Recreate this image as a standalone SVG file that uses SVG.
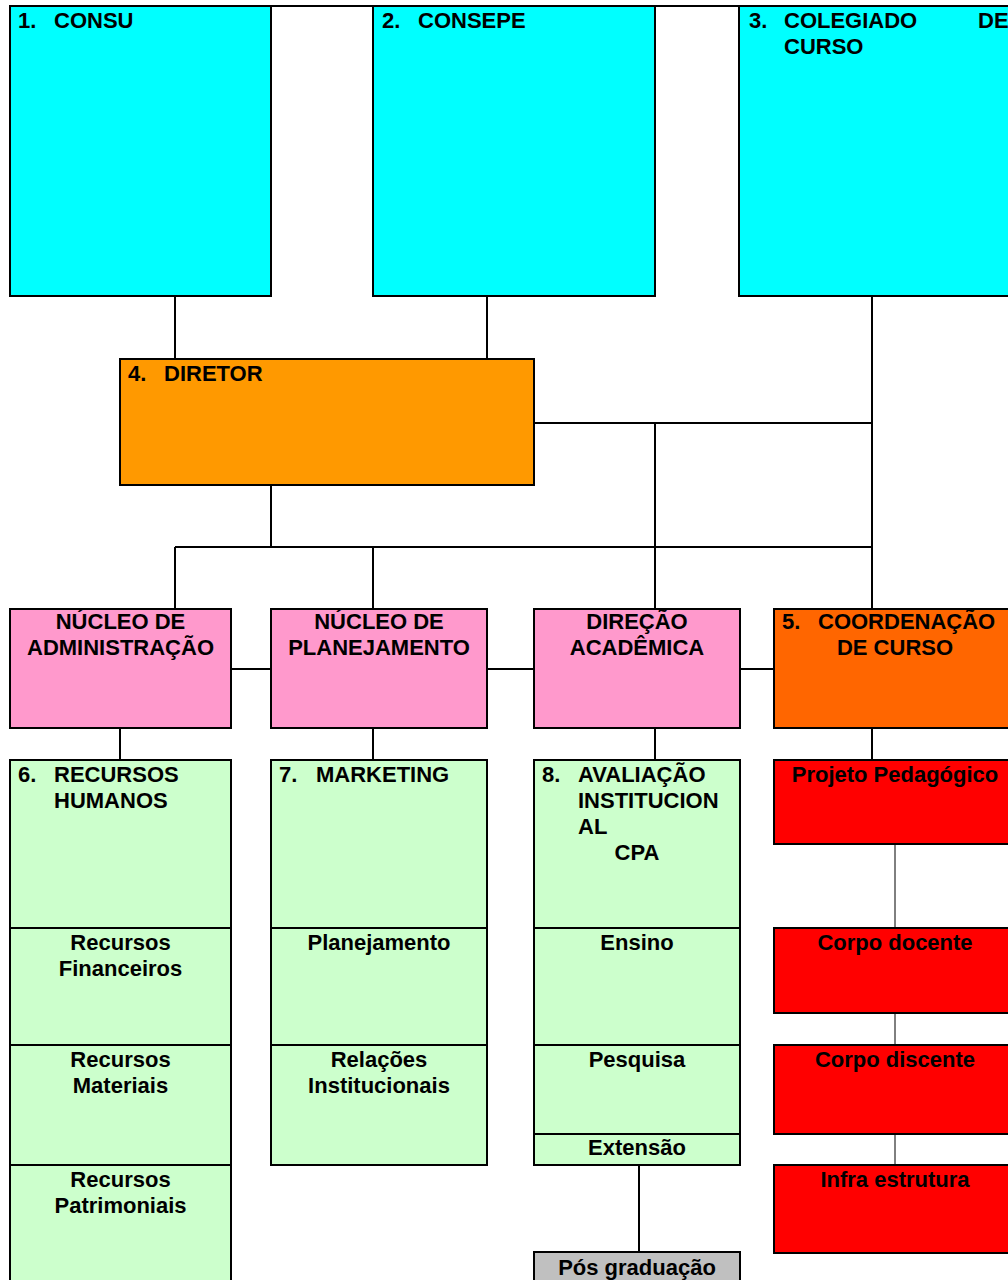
<svg xmlns="http://www.w3.org/2000/svg" width="1008" height="1280" viewBox="0 0 1008 1280">
<style>
rect{stroke:#000;stroke-width:2}
rect.bg{stroke:none;fill:#fff}
.cy{fill:#00FFFF}.or{fill:#FF9900}.pk{fill:#FF99CC}.do{fill:#FF6600}.gr{fill:#CCFFCC}.rd{fill:#FF0000}.gy{fill:#C0C0C0}
text{font-family:"Liberation Sans",Arial,sans-serif;font-weight:bold;font-size:22px;fill:#000}
.c{text-anchor:middle}
.ln line{stroke:#000;stroke-width:2}
.ln line.t{stroke-width:1}
</style>
<rect class="bg" width="1008" height="1280"/>
<g class="ln" id="connectors">
<line x1="10" y1="6" x2="1008" y2="6"/>
<line x1="175" y1="296" x2="175" y2="359"/>
<line x1="487" y1="296" x2="487" y2="359"/>
<line x1="872" y1="296" x2="872" y2="609"/>
<line x1="534" y1="423" x2="872" y2="423"/>
<line x1="655" y1="423" x2="655" y2="609"/>
<line x1="271" y1="485" x2="271" y2="547"/>
<line x1="175" y1="547" x2="872" y2="547"/>
<line x1="175" y1="547" x2="175" y2="609"/>
<line x1="373" y1="547" x2="373" y2="609"/>
<line x1="231" y1="669" x2="271" y2="669"/>
<line x1="487" y1="669" x2="534" y2="669"/>
<line x1="740" y1="669" x2="774" y2="669"/>
<line x1="120" y1="728" x2="120" y2="760"/>
<line x1="373" y1="728" x2="373" y2="760"/>
<line x1="655" y1="728" x2="655" y2="760"/>
<line x1="872" y1="728" x2="872" y2="760"/>
<line x1="639" y1="1165" x2="639" y2="1252"/>
<line class="t" x1="895" y1="844" x2="895" y2="928"/>
<line class="t" x1="895" y1="1013" x2="895" y2="1045"/>
<line class="t" x1="895" y1="1134" x2="895" y2="1165"/>
</g>
<g id="consu"><rect class="cy" x="10" y="6" width="261" height="290"/><text x="18" y="28">1.</text><text x="54" y="28">CONSU</text></g>
<g id="consepe"><rect class="cy" x="373" y="6" width="282" height="290"/><text x="382" y="28">2.</text><text x="418" y="28">CONSEPE</text></g>
<g id="colegiado"><rect class="cy" x="739" y="6" width="290" height="290"/><text x="749" y="28">3.</text><text x="784" y="28">COLEGIADO</text><text x="978" y="28">DE</text><text x="784" y="54">CURSO</text></g>
<g id="diretor"><rect class="or" x="120" y="359" width="414" height="126"/><text x="128" y="381">4.</text><text x="164" y="381">DIRETOR</text></g>
<g id="nucleo-adm"><rect class="pk" x="10" y="609" width="221" height="119"/><text class="c" x="120.5" y="629">NÚCLEO DE</text><text class="c" x="120.5" y="655">ADMINISTRAÇÃO</text></g>
<g id="nucleo-plan"><rect class="pk" x="271" y="609" width="216" height="119"/><text class="c" x="379" y="629">NÚCLEO DE</text><text class="c" x="379" y="655">PLANEJAMENTO</text></g>
<g id="direcao"><rect class="pk" x="534" y="609" width="206" height="119"/><text class="c" x="637" y="629">DIREÇÃO</text><text class="c" x="637" y="655">ACADÊMICA</text></g>
<g id="coordenacao"><rect class="do" x="774" y="609" width="242" height="119"/><text x="782" y="629">5.</text><text x="818" y="629">COORDENAÇÃO</text><text class="c" x="895" y="655">DE CURSO</text></g>
<g id="rh"><rect class="gr" x="10" y="760" width="221" height="168"/><text x="18" y="782">6.</text><text x="54" y="782">RECURSOS</text><text x="54" y="808">HUMANOS</text></g>
<g id="rf"><rect class="gr" x="10" y="928" width="221" height="117"/><text class="c" x="120.5" y="950">Recursos</text><text class="c" x="120.5" y="976">Financeiros</text></g>
<g id="rm"><rect class="gr" x="10" y="1045" width="221" height="120"/><text class="c" x="120.5" y="1067">Recursos</text><text class="c" x="120.5" y="1093">Materiais</text></g>
<g id="rp"><rect class="gr" x="10" y="1165" width="221" height="130"/><text class="c" x="120.5" y="1187">Recursos</text><text class="c" x="120.5" y="1213">Patrimoniais</text></g>
<g id="marketing"><rect class="gr" x="271" y="760" width="216" height="168"/><text x="279" y="782">7.</text><text x="316" y="782">MARKETING</text></g>
<g id="planejamento"><rect class="gr" x="271" y="928" width="216" height="117"/><text class="c" x="379" y="950">Planejamento</text></g>
<g id="relacoes"><rect class="gr" x="271" y="1045" width="216" height="120"/><text class="c" x="379" y="1067">Relações</text><text class="c" x="379" y="1093">Institucionais</text></g>
<g id="avaliacao"><rect class="gr" x="534" y="760" width="206" height="168"/><text x="542" y="782">8.</text><text x="578" y="782">AVALIAÇÃO</text><text x="578" y="808">INSTITUCION</text><text x="578" y="834">AL</text><text class="c" x="637" y="860">CPA</text></g>
<g id="ensino"><rect class="gr" x="534" y="928" width="206" height="117"/><text class="c" x="637" y="950">Ensino</text></g>
<g id="pesquisa"><rect class="gr" x="534" y="1045" width="206" height="89"/><text class="c" x="637" y="1067">Pesquisa</text></g>
<g id="extensao"><rect class="gr" x="534" y="1134" width="206" height="31"/><text class="c" x="637" y="1155">Extensão</text></g>
<g id="posgraduacao"><rect class="gy" x="534" y="1252" width="206" height="40"/><text class="c" x="637" y="1275">Pós graduação</text></g>
<g id="projeto"><rect class="rd" x="774" y="760" width="242" height="84"/><text class="c" x="895" y="782">Projeto Pedagógico</text></g>
<g id="docente"><rect class="rd" x="774" y="928" width="242" height="85"/><text class="c" x="895" y="950">Corpo docente</text></g>
<g id="discente"><rect class="rd" x="774" y="1045" width="242" height="89"/><text class="c" x="895" y="1067">Corpo discente</text></g>
<g id="infra"><rect class="rd" x="774" y="1165" width="242" height="88"/><text class="c" x="895" y="1187">Infra estrutura</text></g>
</svg>
